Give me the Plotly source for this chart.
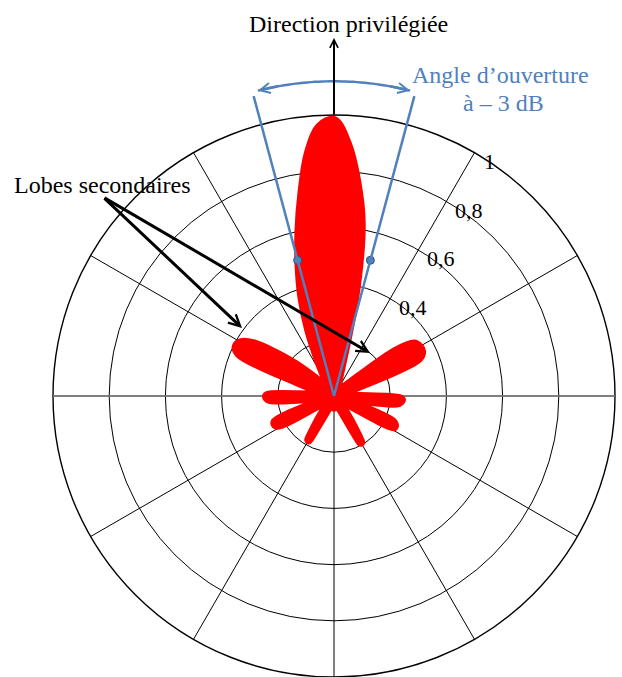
import math
import plotly.graph_objects as go

# Radiation pattern (normalised power) sampled every 3 degrees, clockwise from the main direction
ANGLES = list(range(0, 360, 3))
GAIN = [
    0.98, 0.90, 0.77, 0.62, 0.35, 0.06, 0.03, 0.02, 0.02, 0.02,   # 0-27
    0.02, 0.02, 0.02, 0.03, 0.03, 0.03, 0.04, 0.06, 0.27, 0.34,   # 30-57
    0.35, 0.35, 0.33, 0.08, 0.02, 0.02, 0.02, 0.02, 0.02, 0.03,   # 60-87
    0.04, 0.24, 0.23, 0.04, 0.02, 0.02, 0.02, 0.04, 0.23, 0.24,   # 90-117
    0.05, 0.02, 0.02, 0.02, 0.02, 0.02, 0.02, 0.02, 0.05, 0.11,   # 120-147
    0.19, 0.05, 0.02, 0.02, 0.02, 0.02, 0.02, 0.02, 0.02, 0.02,   # 150-177
    0.04, 0.02, 0.02, 0.02, 0.02, 0.02, 0.02, 0.02, 0.02, 0.05,   # 180-207
    0.18, 0.10, 0.04, 0.02, 0.02, 0.02, 0.02, 0.02, 0.02, 0.02,   # 210-237
    0.04, 0.23, 0.23, 0.04, 0.02, 0.02, 0.02, 0.02, 0.04, 0.23,   # 240-267
    0.24, 0.04, 0.02, 0.02, 0.02, 0.02, 0.03, 0.14, 0.37, 0.39,   # 270-297
    0.38, 0.34, 0.26, 0.18, 0.10, 0.05, 0.03, 0.02, 0.02, 0.02,   # 300-327
    0.02, 0.04, 0.12, 0.25, 0.37, 0.48, 0.60, 0.73, 0.87, 0.96,   # 330-357
]

# Radial grid and its labels
RADIAL_TICKS = [0, 0.2, 0.4, 0.6, 0.8, 1.0]
RADIAL_LABELS = ["", "", "0,4", "0,6", "0,8", "1"]
LABEL_THETA = 30

# Half-power (-3 dB) opening
HALF_ANGLE = 15
HALF_POWER = 0.5

W, H = 622, 677
CX, CY, R = 334, 396, 281          # centre and radius of the polar disc, in pixels
BLUE = "#4F81BD"
SERIF = "Liberation Serif"


def polar_px(r, theta_deg):
    t = math.radians(theta_deg)
    return CX + r * R * math.sin(t), CY - r * R * math.cos(t)


def paper(px, py):
    return px / W, 1 - py / H


fig = go.Figure()

# horizontal reference axis through the centre
fig.add_trace(go.Scatterpolar(
    r=[1, 0, 1], theta=[270, 0, 90], mode="lines",
    line=dict(color="#7F7F7F", width=1.6), hoverinfo="skip"))

# radiation pattern: smoothed, filled, with a heavy outline
fig.add_trace(go.Scatterpolar(
    r=GAIN + [GAIN[0]], theta=ANGLES + [ANGLES[0]], mode="lines",
    fill="toself", fillcolor="#FF0000",
    line=dict(color="#FF0000", width=9, shape="spline", smoothing=1),
    hoverinfo="skip"))

# -3 dB points
fig.add_trace(go.Scatterpolar(
    r=[HALF_POWER, HALF_POWER], theta=[-HALF_ANGLE, HALF_ANGLE], mode="markers",
    marker=dict(size=8, color=BLUE, line=dict(color="#2F4F7F", width=1)),
    hoverinfo="skip"))

shapes = []
# opening-angle boundaries
for th in (-HALF_ANGLE, HALF_ANGLE):
    x0, y0 = paper(*polar_px(0, th))
    x1, y1 = paper(*polar_px(1.105, th))
    shapes.append(dict(type="line", xref="paper", yref="paper",
                       x0=x0, y0=y0, x1=x1, y1=y1,
                       line=dict(color=BLUE, width=2.5)))

# arc showing the opening angle
ARC_R = 1.12
ARC_END = 14
pts = []
for i in range(41):
    th = -ARC_END + 2 * ARC_END * i / 40
    pts.append(paper(*polar_px(ARC_R, th)))
path = "M " + " L ".join(f"{x:.5f},{y:.5f}" for x, y in pts)
shapes.append(dict(type="path", xref="paper", yref="paper", path=path,
                   line=dict(color=BLUE, width=2.5)))

annotations = []
# arrow heads at both ends of the arc
for end, back in ((-ARC_END, -ARC_END + 4), (ARC_END, ARC_END - 4)):
    hx, hy = polar_px(ARC_R, end)
    tx, ty = polar_px(ARC_R, back)
    x, y = paper(hx, hy)
    annotations.append(dict(x=x, y=y, xref="paper", yref="paper", text="",
                            showarrow=True, ax=tx - hx, ay=ty - hy,
                            arrowhead=5, arrowsize=0.8, arrowwidth=2.5,
                            arrowcolor=BLUE, standoff=0))

# main direction arrow
hx, hy = CX, 38
x, y = paper(hx, hy)
annotations.append(dict(x=x, y=y, xref="paper", yref="paper", text="",
                        showarrow=True, ax=0, ay=116 - hy,
                        arrowhead=5, arrowsize=0.8, arrowwidth=2,
                        arrowcolor="black", standoff=0))

# side lobe arrows
tail = (103, 197)
for head in ((242, 328), (370, 353)):
    x, y = paper(*head)
    annotations.append(dict(x=x, y=y, xref="paper", yref="paper", text="",
                            showarrow=True, ax=tail[0] - head[0], ay=tail[1] - head[1],
                            arrowhead=5, arrowsize=0.75, arrowwidth=3,
                            arrowcolor="black", standoff=0))


def label(text, px, py, color="black", size=24, anchor="center"):
    x, y = paper(px, py)
    annotations.append(dict(x=x, y=y, xref="paper", yref="paper", text=text,
                            showarrow=False, xanchor=anchor, yanchor="middle",
                            font=dict(family=SERIF, size=size, color=color)))


# radial tick labels along the 30 degree spoke
for val, txt in zip(RADIAL_TICKS, RADIAL_LABELS):
    if txt:
        px, py = polar_px(val, LABEL_THETA)
        label(txt, px + 7, py + 9, size=22, anchor="left")

label("Direction privilégiée", 348, 24)
label("Angle d’ouverture", 500, 75, BLUE)
label("à – 3 dB", 503, 103, BLUE)
label("Lobes secondaires", 102, 185)

fig.update_layout(
    width=W, height=H, autosize=False,
    margin=dict(l=0, r=0, t=0, b=0, pad=0),
    paper_bgcolor="white", plot_bgcolor="white",
    showlegend=False,
    polar=dict(
        domain=dict(x=[(CX - R) / W, (CX + R) / W], y=[1 - (CY + R) / H, 1 - (CY - R) / H]),
        bgcolor="white",
        angularaxis=dict(
            rotation=90, direction="clockwise",
            tickmode="linear", tick0=0, dtick=30,
            showticklabels=False, ticks="",
            showgrid=True, gridcolor="black", gridwidth=1,
            showline=True, linecolor="black", linewidth=1.4,
            layer="below traces"),
        radialaxis=dict(
            range=[0, 1], angle=60,
            tickmode="array", tickvals=RADIAL_TICKS,
            showticklabels=False, ticks="", showline=False,
            showgrid=True, gridcolor="black", gridwidth=1,
            layer="below traces"),
    ),
    shapes=shapes,
    annotations=annotations,
)

fig.write_html("out.html")
